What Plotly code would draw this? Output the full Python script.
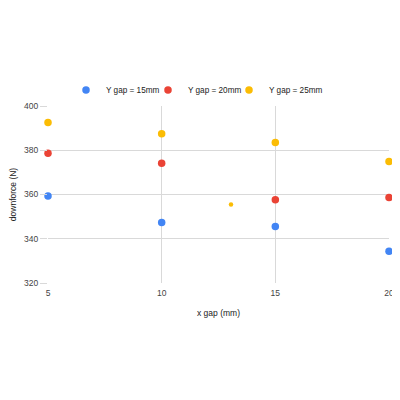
import plotly.graph_objects as go

x_gap = [5, 10, 15, 20]
y15 = [359.3, 347.4, 345.5, 334.3]
y20 = [378.7, 374.1, 357.6, 358.6]
y25 = [392.5, 387.5, 383.5, 374.9]
# lone small yellow point
x25_extra = [13.05]
y25_extra = [355.5]

FONT = "Arial, Liberation Sans, sans-serif"
BLUE, RED, YELLOW = "#4285F4", "#EA4335", "#FBBC04"

fig = go.Figure()
fig.add_trace(go.Scatter(x=x_gap, y=y15, mode="markers", name="Y gap = 15mm",
                         marker=dict(color=BLUE, size=7.5), legend="legend"))
fig.add_trace(go.Scatter(x=x_gap, y=y20, mode="markers", name="Y gap = 20mm",
                         marker=dict(color=RED, size=7.5), legend="legend2"))
fig.add_trace(go.Scatter(x=x_gap, y=y25, mode="markers", name="Y gap = 25mm",
                         marker=dict(color=YELLOW, size=7.5), legend="legend3",
                         legendgroup="y25"))
fig.add_trace(go.Scatter(x=x25_extra, y=y25_extra, mode="markers", name="Y gap = 25mm",
                         marker=dict(color=YELLOW, size=4.5), showlegend=False,
                         legendgroup="y25"))

leg_common = dict(orientation="h", xanchor="left", y=1.09, yanchor="middle",
                  font=dict(size=8.2, color="#222222", family=FONT), itemsizing="trace",
                  bgcolor="rgba(0,0,0,0)")

fig.update_layout(
    width=400, height=400,
    margin=dict(l=40, r=19, t=98, b=125, autoexpand=False),
    paper_bgcolor="white", plot_bgcolor="white",
    font=dict(family=FONT, size=8.5, color="#444444"),
    showlegend=True,
    legend=dict(x=0.0528, **leg_common),
    legend2=dict(x=0.2932, **leg_common),
    legend3=dict(x=0.5308, **leg_common),
    xaxis=dict(range=[5, 20], tickvals=[5, 10, 15, 20], showgrid=True, gridcolor="#d9d9d9",
               zeroline=False, showline=False, ticks="outside", ticklen=2, tickcolor="white",
               automargin=False,
               title=dict(text="x gap (mm)", font=dict(size=8.5, color="#222222"), standoff=12)),
    yaxis=dict(range=[320, 400], tickvals=[320, 340, 360, 380, 400], showgrid=True,
               gridcolor="#d9d9d9", zeroline=False, showline=False, ticks="outside",
               ticklen=7, tickcolor="#d9d9d9", automargin=False,
               title=dict(text="downforce (N)", font=dict(size=8.5, color="#222222"), standoff=10)),
)
fig.update_traces(cliponaxis=False)
fig.write_html("out.html")
